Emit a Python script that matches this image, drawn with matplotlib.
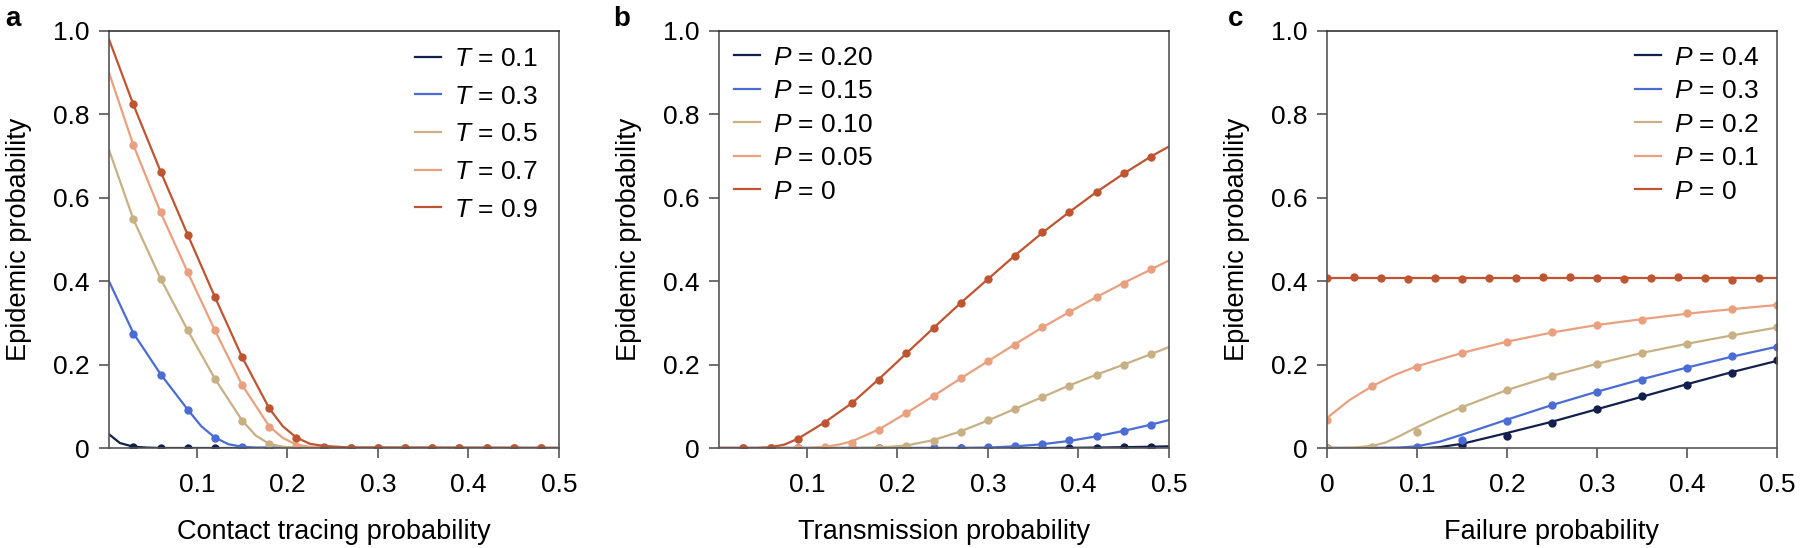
import matplotlib
matplotlib.use("Agg")
import matplotlib.pyplot as plt

plt.rcParams['font.family'] = ['Liberation Sans', 'DejaVu Sans']
plt.rcParams['mathtext.fontset'] = 'custom'
plt.rcParams['mathtext.it'] = 'Liberation Sans:italic'
plt.rcParams['mathtext.rm'] = 'Liberation Sans'

colors = ['#131f4c', '#4a6cd4', '#c8b084', '#e9a07e', '#bf5431']

# ---- panel a: contact tracing probability ----
a_labels = ['$T$ = 0.1', '$T$ = 0.3', '$T$ = 0.5', '$T$ = 0.7', '$T$ = 0.9']
a_pts_x = [0.03, 0.06, 0.09, 0.12, 0.15, 0.18, 0.21, 0.24, 0.27, 0.30, 0.33, 0.36, 0.39, 0.42, 0.45, 0.48]
a_pts = [
    [0.002, 0.001, 0.001, 0.001, 0, 0, 0, 0, 0, 0, 0, 0, 0, 0, 0, 0],
    [0.274, 0.176, 0.090, 0.023, 0.002, 0, 0, 0, 0, 0, 0, 0, 0, 0, 0, 0],
    [0.548, 0.406, 0.282, 0.166, 0.065, 0.009, 0.001, 0, 0, 0, 0, 0, 0, 0, 0, 0],
    [0.726, 0.565, 0.421, 0.282, 0.151, 0.051, 0.005, 0.001, 0, 0, 0, 0, 0, 0, 0, 0],
    [0.825, 0.662, 0.511, 0.362, 0.218, 0.096, 0.023, 0.002, 0.001, 0, 0, 0, 0, 0, 0, 0],
]
a_line_x = [
    [0.003, 0.015, 0.03, 0.045, 0.06, 0.09, 0.5],
    [0.003, 0.03, 0.06, 0.09, 0.105, 0.12, 0.135, 0.15, 0.165, 0.5],
    [0.003, 0.03, 0.06, 0.09, 0.12, 0.15, 0.165, 0.18, 0.195, 0.21, 0.5],
    [0.003, 0.03, 0.06, 0.09, 0.12, 0.15, 0.18, 0.195, 0.21, 0.225, 0.24, 0.5],
    [0.003, 0.03, 0.06, 0.09, 0.12, 0.15, 0.18, 0.195, 0.21, 0.225, 0.24, 0.27, 0.5],
]
a_line_y = [
    [0.033, 0.012, 0.003, 0.001, 0, 0, 0],
    [0.40, 0.275, 0.177, 0.092, 0.052, 0.025, 0.009, 0.003, 0.001, 0],
    [0.715, 0.548, 0.406, 0.282, 0.166, 0.066, 0.030, 0.010, 0.003, 0.001, 0],
    [0.90, 0.726, 0.565, 0.421, 0.282, 0.151, 0.052, 0.024, 0.008, 0.003, 0.001, 0],
    [0.98, 0.823, 0.663, 0.511, 0.362, 0.218, 0.095, 0.052, 0.025, 0.010, 0.005, 0.001, 0],
]

# ---- panel b: transmission probability ----
b_labels = ['$P$ = 0.20', '$P$ = 0.15', '$P$ = 0.10', '$P$ = 0.05', '$P$ = 0']
b_pts_x = [0.03, 0.06, 0.09, 0.12, 0.15, 0.18, 0.21, 0.24, 0.27, 0.30, 0.33, 0.36, 0.39, 0.42, 0.45, 0.48]
b_pts = [
    [0, 0, 0, 0, 0, 0, 0, 0, 0, 0, 0, 0, 0.001, 0.001, 0.002, 0.003],
    [0, 0, 0, 0, 0, 0, 0, 0, 0, 0.002, 0.004, 0.009, 0.018, 0.028, 0.041, 0.056],
    [0, 0, 0, 0, 0, 0.001, 0.005, 0.016, 0.039, 0.066, 0.094, 0.123, 0.149, 0.176, 0.200, 0.225],
    [0, 0, 0, 0.002, 0.013, 0.044, 0.084, 0.125, 0.167, 0.209, 0.248, 0.289, 0.327, 0.361, 0.394, 0.430],
    [0, 0.001, 0.022, 0.061, 0.109, 0.164, 0.228, 0.287, 0.347, 0.406, 0.460, 0.517, 0.565, 0.613, 0.659, 0.699],
]
b_line_x = [
    [0.003, 0.36, 0.39, 0.42, 0.45, 0.48, 0.5],
    [0.003, 0.27, 0.30, 0.33, 0.36, 0.39, 0.42, 0.45, 0.48, 0.5],
    [0.003, 0.15, 0.18, 0.21, 0.24, 0.27, 0.30, 0.33, 0.36, 0.39, 0.42, 0.45, 0.48, 0.5],
    [0.003, 0.10, 0.12, 0.135, 0.15, 0.18, 0.21, 0.24, 0.27, 0.30, 0.33, 0.36, 0.39, 0.42, 0.45, 0.48, 0.5],
    [0.003, 0.045, 0.06, 0.075, 0.09, 0.12, 0.15, 0.18, 0.21, 0.24, 0.27, 0.30, 0.33, 0.36, 0.39, 0.42, 0.45, 0.48, 0.5],
]
b_line_y = [
    [0, 0, 0.0005, 0.001, 0.002, 0.003, 0.004],
    [0, 0, 0.001, 0.004, 0.009, 0.017, 0.028, 0.041, 0.056, 0.067],
    [0, 0, 0.001, 0.006, 0.019, 0.040, 0.066, 0.094, 0.122, 0.150, 0.176, 0.200, 0.225, 0.242],
    [0, 0, 0.003, 0.008, 0.016, 0.045, 0.084, 0.125, 0.167, 0.208, 0.249, 0.289, 0.326, 0.362, 0.396, 0.428, 0.450],
    [0, 0, 0.002, 0.008, 0.022, 0.062, 0.108, 0.166, 0.227, 0.288, 0.348, 0.405, 0.462, 0.516, 0.566, 0.614, 0.658, 0.699, 0.723],
]

# ---- panel c: failure probability ----
c_labels = ['$P$ = 0.4', '$P$ = 0.3', '$P$ = 0.2', '$P$ = 0.1', '$P$ = 0']
c_pts_x5 = [0, 0.05, 0.10, 0.15, 0.20, 0.25, 0.30, 0.35, 0.40, 0.45, 0.50]
c_pts_x3 = [0, 0.03, 0.06, 0.09, 0.12, 0.15, 0.18, 0.21, 0.24, 0.27, 0.30, 0.33, 0.36, 0.39, 0.42, 0.45, 0.48]
c_pts = [
    [0, 0, 0, 0.007, 0.028, 0.061, 0.093, 0.124, 0.152, 0.180, 0.210],
    [0, 0, 0.003, 0.020, 0.065, 0.103, 0.135, 0.164, 0.193, 0.220, 0.242],
    [0, 0.003, 0.038, 0.097, 0.139, 0.173, 0.202, 0.228, 0.250, 0.270, 0.289],
    [0.068, 0.148, 0.195, 0.228, 0.255, 0.277, 0.295, 0.307, 0.323, 0.333, 0.344],
    [0.407, 0.409, 0.408, 0.406, 0.407, 0.406, 0.408, 0.407, 0.409, 0.409, 0.407, 0.405, 0.407, 0.409, 0.407, 0.404, 0.408],
]
c_line_x = [
    [0, 0.11, 0.125, 0.15, 0.20, 0.25, 0.30, 0.35, 0.40, 0.45, 0.50],
    [0, 0.05, 0.08, 0.10, 0.125, 0.15, 0.20, 0.25, 0.30, 0.35, 0.40, 0.45, 0.50],
    [0, 0.03, 0.05, 0.065, 0.08, 0.10, 0.125, 0.15, 0.20, 0.25, 0.30, 0.35, 0.40, 0.45, 0.50],
    [0, 0.025, 0.05, 0.075, 0.10, 0.15, 0.20, 0.25, 0.30, 0.35, 0.40, 0.45, 0.50],
    [0, 0.50],
]
c_line_y = [
    [0, 0, 0.002, 0.010, 0.036, 0.063, 0.093, 0.123, 0.153, 0.182, 0.209],
    [0, 0, 0.001, 0.004, 0.015, 0.032, 0.068, 0.103, 0.135, 0.165, 0.193, 0.219, 0.243],
    [0, 0.001, 0.005, 0.013, 0.028, 0.050, 0.075, 0.098, 0.139, 0.173, 0.202, 0.228, 0.250, 0.270, 0.289],
    [0.072, 0.115, 0.148, 0.175, 0.196, 0.228, 0.255, 0.277, 0.295, 0.309, 0.322, 0.333, 0.343],
    [0.408, 0.408],
]

TICK_FS = 19
LABEL_FS = 19.5
LEG_FS = 19

fig = plt.figure(figsize=(18, 5.48), dpi=100)
W, H = 1800.0, 548.0
lefts = [109, 719, 1327]
axes = [fig.add_axes([l / W, (H - 448) / H, 450 / W, 417 / H]) for l in lefts]


def style(ax, xticks, xticklabels, xlabel):
    ax.set_xlim(0.003 if xticks[0] > 0 else 0, 0.5)
    ax.set_ylim(0, 1.0)
    ax.set_xticks(xticks)
    ax.set_xticklabels(xticklabels)
    ax.set_yticks([0, 0.2, 0.4, 0.6, 0.8, 1.0])
    ax.set_yticklabels(['0', '0.2', '0.4', '0.6', '0.8', '1.0'])
    ax.tick_params(direction='out', length=7, width=1.2, color='#555555',
                   labelsize=TICK_FS)
    ax.tick_params(axis='x', pad=11)
    ax.tick_params(axis='y', pad=7)
    for s in ax.spines.values():
        s.set_color('#555555')
        s.set_linewidth(1.2)
    ax.spines['top'].set_color('#333333')
    ax.set_xlabel(xlabel, fontsize=LABEL_FS)
    ax.set_ylabel('Epidemic probability', fontsize=LABEL_FS)
    ax.xaxis.set_label_coords(0.5, -0.17)
    ax.yaxis.set_label_coords(-0.17, 0.5)


def legend(ax, loc, anchor, spacing):
    ax.legend(loc=loc, bbox_to_anchor=anchor, frameon=False, fontsize=LEG_FS,
              handlelength=1.0, handletextpad=0.5, labelspacing=spacing,
              borderpad=0, borderaxespad=0)


# panel a
ax = axes[0]
for i in range(5):
    ax.plot(a_line_x[i], a_line_y[i], color=colors[i], lw=1.6, label=a_labels[i])
    ax.plot(a_pts_x, a_pts[i], 'o', color=colors[i], ms=6, mec='none')
style(ax, [0.1, 0.2, 0.3, 0.4, 0.5], ['0.1', '0.2', '0.3', '0.4', '0.5'],
      'Contact tracing probability')
legend(ax, 'upper right', (0.953, 0.962), 0.52)

# panel b
ax = axes[1]
for i in range(5):
    ax.plot(b_line_x[i], b_line_y[i], color=colors[i], lw=1.6, label=b_labels[i])
    ax.plot(b_pts_x, b_pts[i], 'o', color=colors[i], ms=6, mec='none')
style(ax, [0.1, 0.2, 0.3, 0.4, 0.5], ['0.1', '0.2', '0.3', '0.4', '0.5'],
      'Transmission probability')
legend(ax, 'upper left', (0.033, 0.965), 0.36)

# panel c
ax = axes[2]
for i in range(5):
    ax.plot(c_line_x[i], c_line_y[i], color=colors[i], lw=1.6, label=c_labels[i])
    px = c_pts_x3 if i == 4 else c_pts_x5
    ax.plot(px, c_pts[i], 'o', color=colors[i], ms=6, mec='none')
style(ax, [0, 0.1, 0.2, 0.3, 0.4, 0.5], ['0', '0.1', '0.2', '0.3', '0.4', '0.5'],
      'Failure probability')
legend(ax, 'upper right', (0.962, 0.965), 0.36)

for letter, xpix in zip(['a', 'b', 'c'], [13, 622, 1236]):
    fig.text(xpix / W, 1 - 19 / H, letter, fontsize=20, fontweight='bold',
             ha='center', va='center')

fig.savefig('out.png', dpi=100)
